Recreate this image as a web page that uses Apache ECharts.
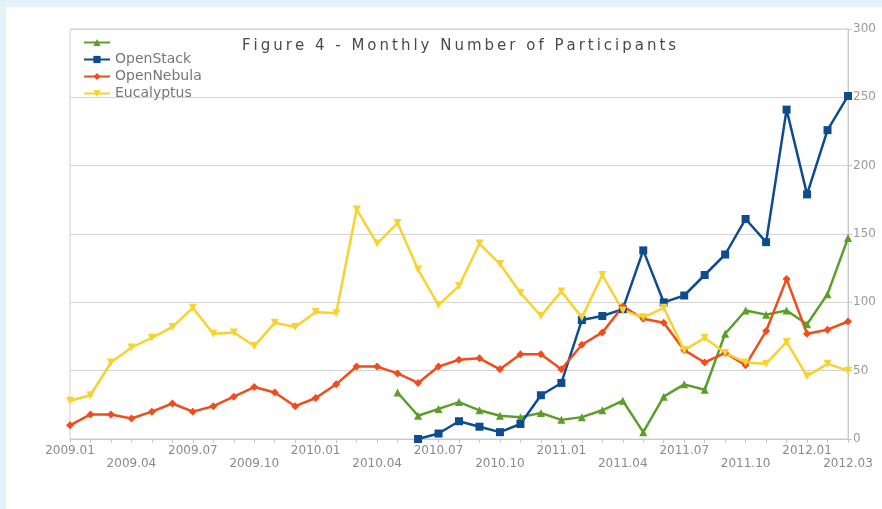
<!DOCTYPE html>
<html>
<head>
<meta charset="utf-8">
<script src="https://cdn.jsdelivr.net/npm/echarts@6/dist/echarts.min.js"></script>
<style>
  html, body { margin: 0; padding: 0; background: #e4f2fa; }
  #panel { position: absolute; left: 6px; top: 7px; width: 876px; height: 502px; background: #fff; }
  #box { position: absolute; left: 0; top: 0; width: 882px; height: 509px; }
</style>
</head>
<body>
<div id="panel"></div>
<div id="box"></div>
<script>
var months = ['2009.01','2009.02','2009.03','2009.04','2009.05','2009.06','2009.07','2009.08','2009.09','2009.10','2009.11','2009.12',
              '2010.01','2010.02','2010.03','2010.04','2010.05','2010.06','2010.07','2010.08','2010.09','2010.10','2010.11','2010.12',
              '2011.01','2011.02','2011.03','2011.04','2011.05','2011.06','2011.07','2011.08','2011.09','2011.10','2011.11','2011.12',
              '2012.01','2012.02','2012.03'];
var seriesNames = [' ', 'OpenStack', 'OpenNebula', 'Eucalyptus'];
// first series has no label in the original legend, starts 2010.05
var unnamedVals = [34,17,22,27,21,17,16,19,14,16,21,28,5,31,40,36,77,94,91,94,84,106,147];
// OpenStack starts 2010.06
var openStackVals = [0,4,13,9,5,11,32,41,87,90,95,138,100,105,120,135,161,144,241,179,226,251];
var openNebulaVals = [10,18,18,15,20,26,20,24,31,38,34,24,30,40,53,53,48,41,53,58,59,51,62,62,51,69,78,97,88,85,65,56,63,54,79,117,77,80,86];
var eucalyptusVals = [28,32,56,67,74,82,96,77,78,68,85,82,93,92,168,143,158,124,98,112,143,128,107,90,108,89,120,94,89,96,65,74,63,56,55,71,46,55,50];
var yTicks = [0, 50, 100, 150, 200, 250, 300];

function padFront(vals) {
    var out = [];
    for (var i = 0; i < months.length - vals.length; i++) out.push(null);
    return out.concat(vals);
}
// labels alternate between two rows
function topRow(i) { return i % 6 === 0; }
function bottomRow(i) { return i % 6 === 3 || i === months.length - 1; }

var colorList = ['#5c9e2a', '#0f4c8e', '#f04c1c', '#f8d22e'];
var symbols = ['triangle', 'rect', 'diamond', 'triangle'];
var rotates = [0, 0, 0, 180];
var allVals = [padFront(unnamedVals), padFront(openStackVals), openNebulaVals, eucalyptusVals];

var chart = echarts.init(document.getElementById('box'));
// the original title is letter-spaced
var titleText = 'Figure 4 - Monthly Number of Participants'.split('').join('\u2009');
var labelFont = { fontFamily: 'DejaVu Sans', fontSize: 12, color: '#8a8a8a' };

var option = {
    animation: false,
    title: {
        text: titleText,
        left: 237,
        top: 34,
        textStyle: { fontFamily: 'DejaVu Sans', fontSize: 15, fontWeight: 'normal', color: '#4a4a4a' }
    },
    legend: {
        orient: 'vertical',
        left: 78,
        top: 30,
        itemWidth: 26,
        itemHeight: 9,
        itemGap: 2,
        data: seriesNames,
        textStyle: { fontFamily: 'DejaVu Sans', fontSize: 14, color: '#777', lineHeight: 15 }
    },
    grid: {
        left: 70, right: 34, top: 29, bottom: 70,
        show: true, borderColor: '#cfcfcf', borderWidth: 1
    },
    xAxis: [{
        type: 'category',
        data: months,
        boundaryGap: false,
        axisLine: { lineStyle: { color: '#c8c8c8' } },
        axisTick: { show: true, interval: 0, length: 4, lineStyle: { color: '#c8c8c8' } },
        axisLabel: Object.assign({ interval: function (i) { return topRow(i); }, margin: 6 }, labelFont),
        splitLine: { show: false }
    }, {
        type: 'category',
        data: months,
        boundaryGap: false,
        position: 'bottom',
        offset: 13,
        axisLine: { show: false },
        axisTick: { show: false },
        axisLabel: Object.assign({ interval: function (i) { return bottomRow(i); }, margin: 6, showMaxLabel: true }, labelFont),
        splitLine: { show: false }
    }],
    yAxis: {
        type: 'value',
        position: 'right',
        min: yTicks[0], max: yTicks[yTicks.length - 1], interval: 50,
        axisLine: { show: true, lineStyle: { color: '#c8c8c8' } },
        axisTick: { show: true, length: 4, lineStyle: { color: '#c8c8c8' } },
        axisLabel: { fontFamily: 'DejaVu Sans', fontSize: 12, color: '#9a9a9a', margin: 5 },
        splitLine: { lineStyle: { color: '#d4d4d4' } }
    },
    series: seriesNames.map(function (name, k) {
        return {
            name: name,
            type: 'line',
            data: allVals[k],
            symbol: symbols[k],
            symbolRotate: rotates[k],
            symbolSize: 8,
            showSymbol: true,
            connectNulls: false,
            itemStyle: { color: colorList[k] },
            lineStyle: { color: colorList[k], width: 2.5 }
        };
    })
};
chart.setOption(option);
</script>
</body>
</html>
